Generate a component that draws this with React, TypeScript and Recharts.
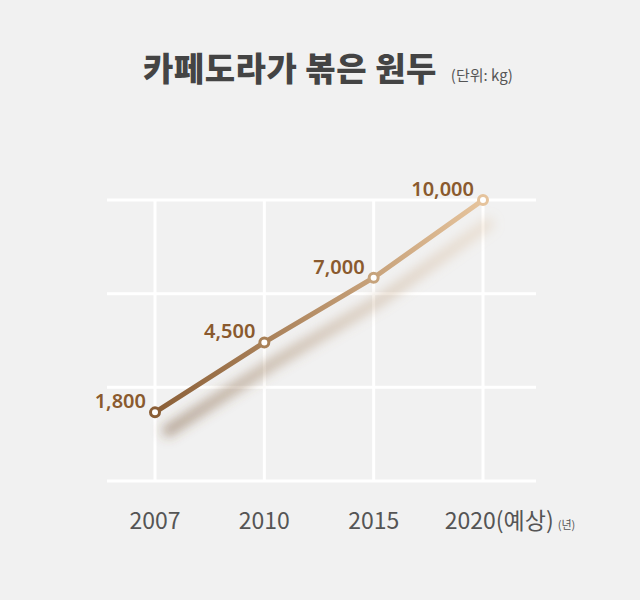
import { CartesianGrid, LabelList, Line, LineChart, XAxis, YAxis } from "recharts";

const years = ["2007", "2010", "2015", "2020"];
const yearNotes = ["", "", "", "(예상)"];
const beans = [1800, 4500, 7000, 10000];
const yMin = -850;
const yMax = 10000;

const data = years.map((year, i) => ({ year, note: yearNotes[i], beans: beans[i] }));
const yTicks = [0, 1, 2, 3].map((i) => yMin + ((yMax - yMin) * i) / 3);

const dotColors = ["#8a5e36", "#a98157", "#c6a37c", "#e5c39c"];
const font = '"Noto Sans CJK KR", "Noto Sans", sans-serif';

function YearTick(props: any) {
	const { x, y, index, payload } = props;
	const note = yearNotes[index];
	return (
		<text
			x={x}
			y={y}
			dx={note ? 27 : 0}
			dy={40}
			textAnchor="middle"
			fill="#555"
			fontSize={23}
			fontWeight={400}
			fontFamily={font}
		>
			{payload.value}
			{note}
			{note ? (
				<tspan dx={4} fontSize={11}>
					(년)
				</tspan>
			) : null}
		</text>
	);
}

function ValueLabel(props: any) {
	const { x, y, value } = props;
	return (
		<text
			x={x - 9}
			y={y - 4}
			textAnchor="end"
			fill="#8a5a2e"
			fontSize={20}
			fontWeight={600}
			fontFamily='"Noto Sans", sans-serif'
		>
			{value.toLocaleString("en-US")}
		</text>
	);
}

function Dot(props: any) {
	const { cx, cy, index } = props;
	return (
		<circle
			key={index}
			cx={cx}
			cy={cy}
			r={4.5}
			fill="#fff"
			stroke={dotColors[index]}
			strokeWidth={3}
		/>
	);
}

export default function App() {
	return (
		<div
			style={{
				position: "absolute",
				left: 0,
				top: 0,
				width: 640,
				height: 600,
				background: "#f1f1f1",
				fontFamily: font,
			}}
		>
			<div
				style={{
					position: "absolute",
					left: 143,
					top: 43,
					display: "flex",
					alignItems: "baseline",
					whiteSpace: "nowrap",
				}}
			>
				<span style={{ fontSize: 33, fontWeight: 900, color: "#444", letterSpacing: 0.5 }}>
					카페도라가 볶은 원두
				</span>
				<span style={{ fontSize: 15, color: "#555", marginLeft: 14 }}>
					(단위: kg)
				</span>
			</div>
			<LineChart
				width={640}
				height={600}
				data={data}
				margin={{ top: 200, right: 104, left: 107, bottom: 89 }}
			>
				<defs>
					<linearGradient id="lineGrad" x1="0" y1="0" x2="1" y2="0">
						<stop offset="0%" stopColor="#8a5e36" />
						<stop offset="100%" stopColor="#e6c49d" />
					</linearGradient>
					<linearGradient id="shadowGrad" x1="0" y1="0" x2="1" y2="0">
						<stop offset="0%" stopColor="#6e4a28" stopOpacity={0.5} />
						<stop offset="100%" stopColor="#d9b48a" stopOpacity={0.3} />
					</linearGradient>
					<filter
						id="lineShadow"
						filterUnits="userSpaceOnUse"
						x="0"
						y="0"
						width="640"
						height="600"
					>
						<feOffset dx="9" dy="21" />
						<feGaussianBlur stdDeviation="6" />
					</filter>
				</defs>
				<CartesianGrid stroke="#ffffff" strokeWidth={3} syncWithTicks />
				<XAxis
					dataKey="year"
					padding={{ left: 48, right: 53 }}
					axisLine={false}
					tickLine={false}
					height={30}
					tick={<YearTick />}
					interval={0}
				/>
				<YAxis hide domain={[yMin, yMax]} ticks={yTicks} />
				<Line
					dataKey="beans"
					stroke="url(#shadowGrad)"
					strokeWidth={11}
					dot={false}
					activeDot={false}
					filter="url(#lineShadow)"
					isAnimationActive={false}
				/>
				<Line
					dataKey="beans"
					stroke="url(#lineGrad)"
					strokeWidth={5}
					dot={<Dot />}
					activeDot={false}
					isAnimationActive={false}
				>
					<LabelList dataKey="beans" content={<ValueLabel />} />
				</Line>
			</LineChart>
		</div>
	);
}
